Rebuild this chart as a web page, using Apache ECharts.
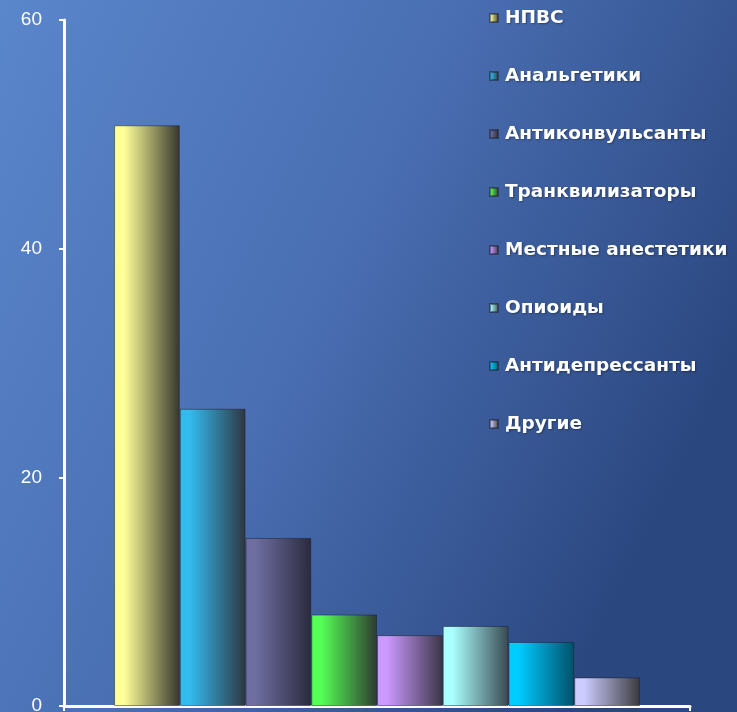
<!DOCTYPE html>
<html>
<head>
<meta charset="utf-8">
<script src="https://cdn.jsdelivr.net/npm/echarts@6/dist/echarts.min.js"></script>
<style>
html,body{margin:0;padding:0;}
#c{width:737px;height:712px;}
</style>
</head>
<body>
<div id="c"></div>
<script>
var categories = [''];
var seriesNames = ['НПВС','Анальгетики','Антиконвульсанты','Транквилизаторы','Местные анестетики','Опиоиды','Антидепрессанты','Другие'];
var seriesValues = [50.8, 26.0, 14.7, 8.0, 6.2, 7.0, 5.6, 2.5];
var yTicks = [0, 20, 40, 60];
var lightColors = ['#ffff99','#33bbee','#6e6ea0','#55ff55','#cc99ff','#aaffff','#00ccff','#ccccff'];
var darkColors  = ['#36362e','#2e3640','#2a2a3e','#2e3a30','#3a3646','#384850','#005068','#3a3a3e'];

var chart = echarts.init(document.getElementById('c'));
var series = seriesNames.map(function(n, i){
  return {
    name: n,
    type: 'bar',
    barGap: '0%',
    barCategoryGap: '16%',
    data: [seriesValues[i]],
    itemStyle: {
      color: new echarts.graphic.LinearGradient(0,0,1,0,[
        {offset:0,color:lightColors[i]},
        {offset:0.15,color:lightColors[i]},
        {offset:1,color:darkColors[i]}
      ]),
      borderColor: 'rgba(30,30,40,0.5)',
      borderWidth: 1
    },
    emphasis: {disabled: true}
  };
});
chart.setOption({
  animation: false,
  backgroundColor: new echarts.graphic.LinearGradient(0,0,1,0.5,[
    {offset:0,color:'#5a86cb'},
    {offset:0.5,color:'#4a6fb3'},
    {offset:1,color:'#2b4780'}
  ]),
  grid: {left: 64, top: 20, right: 47, bottom: 6, containLabel: false, outerBoundsMode: 'none'},
  legend: {
    orient: 'vertical',
    left: 484,
    top: 3,
    itemWidth: 8,
    itemHeight: 8,
    itemGap: 38,
    icon: 'rect',
    data: seriesNames,
    textStyle: {
      color: '#ffffff',
      fontFamily: 'DejaVu Sans',
      fontWeight: 'bold',
      fontSize: 18.5,
      lineHeight: 20,
      padding: [0,0,0,2],
      textShadowColor: 'rgba(0,0,0,0.35)',
      textShadowBlur: 2,
      textShadowOffsetX: 1,
      textShadowOffsetY: 1
    },
    selectedMode: false
  },
  xAxis: {
    type: 'category',
    data: categories,
    axisLine: {lineStyle: {color: '#ffffff', width: 3}},
    axisTick: {show: true, length: 5, lineStyle: {color:'#ffffff', width: 2}},
    axisLabel: {show: false}
  },
  yAxis: {
    type: 'value',
    min: 0,
    max: 60.01,
    axisLine: {show: true, lineStyle: {color: '#ffffff', width: 3}},
    axisTick: {show: true, length: 5, customValues: yTicks, lineStyle: {color:'#ffffff', width: 2}},
    splitLine: {show: false},
    axisLabel: {
      color: '#ffffff',
      fontFamily: 'Liberation Sans',
      fontSize: 19,
      margin: 22,
      align: 'right',
      verticalAlign: 'middle',
      hideOverlap: false,
      customValues: yTicks,
      formatter: function(v){ return String(v); }
    }
  },
  series: series
});
</script>
</body>
</html>
